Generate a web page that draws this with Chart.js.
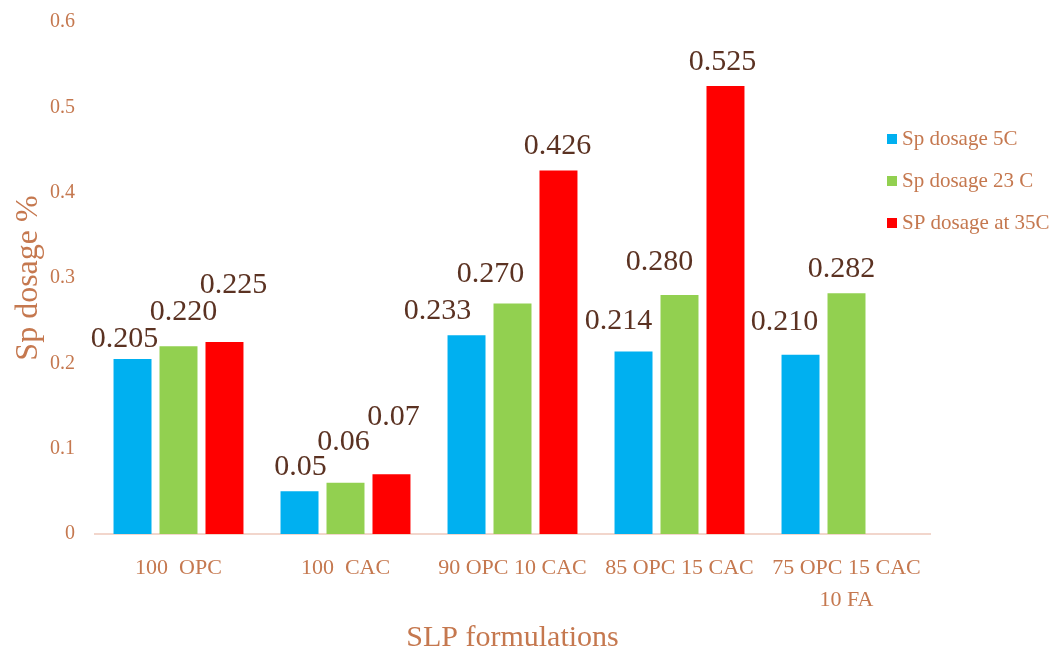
<!DOCTYPE html>
<html>
<head>
<meta charset="utf-8">
<script src="https://cdn.jsdelivr.net/npm/chart.js@4"></script>
<style>
  html, body { margin: 0; padding: 0; background: #fff; }
  #wrap { width: 1053px; height: 650px; }
</style>
</head>
<body>
<div id="wrap"><canvas id="chart" width="1053" height="650"></canvas></div>
<script>
const categories = [['100  OPC'], ['100  CAC'], ['90 OPC 10 CAC'], ['85 OPC 15 CAC'], ['75 OPC 15 CAC', '10 FA']];
const seriesNames = ['Sp dosage 5C', 'Sp dosage 23 C', 'SP dosage at 35C'];
const dosage5C = [0.205, 0.05, 0.233, 0.214, 0.210];
const dosage23C = [0.220, 0.06, 0.270, 0.280, 0.282];
const dosage35C = [0.225, 0.07, 0.426, 0.525, null];
const labels5C = ['0.205', '0.05', '0.233', '0.214', '0.210'];
const labels23C = ['0.220', '0.06', '0.270', '0.280', '0.282'];
const labels35C = ['0.225', '0.07', '0.426', '0.525', ''];

const tickColor = '#C5784F';
const labelColor = '#5B3222';
const serif = '"Liberation Serif", "DejaVu Serif", serif';

// label shifts (dx, dy above bar top) - the original labels were nudged by hand
const labelShift = [
  [[-8, 20], [1, 24], [-29, 24], [-15, 30], [-16, 33]],
  [[5, 34], [-2, 41], [-22, 29], [-20, 33], [-5, 24]],
  [[9, 57], [2, 57], [-1, 24], [-3, 24], [0, 0]]
];

const valueLabels = {
  id: 'valueLabels',
  afterDatasetsDraw(chart) {
    const ctx = chart.ctx;
    ctx.save();
    ctx.font = '30px ' + serif;
    ctx.fillStyle = labelColor;
    ctx.textAlign = 'center';
    ctx.textBaseline = 'middle';
    chart.data.datasets.forEach((ds, i) => {
      chart.getDatasetMeta(i).data.forEach((bar, j) => {
        if (ds.data[j] == null) return;
        const s = labelShift[i][j];
        ctx.fillText(ds.labelText[j], bar.x + s[0], bar.y - s[1]);
      });
    });
    ctx.restore();
  }
};

const sideLegend = {
  id: 'sideLegend',
  afterDraw(chart) {
    const ctx = chart.ctx;
    ctx.save();
    ctx.font = '21px ' + serif;
    ctx.textBaseline = 'middle';
    chart.data.datasets.forEach((ds, i) => {
      const y = 139 + i * 42;
      ctx.fillStyle = ds.backgroundColor;
      ctx.fillRect(887, y - 5, 10, 10);
      ctx.fillStyle = tickColor;
      ctx.fillText(ds.label, 902, y);
    });
    ctx.restore();
  }
};

new Chart(document.getElementById('chart'), {
  type: 'bar',
  data: {
    labels: categories,
    datasets: [
      { label: seriesNames[0], data: dosage5C, labelText: labels5C, backgroundColor: '#00B0F0' },
      { label: seriesNames[1], data: dosage23C, labelText: labels23C, backgroundColor: '#92D050' },
      { label: seriesNames[2], data: dosage35C, labelText: labels35C, backgroundColor: '#FF0000' }
    ]
  },
  options: {
    responsive: false,
    animation: false,
    layout: { padding: { top: 22, right: 123, left: 8, bottom: -5 } },
    datasets: { bar: { categoryPercentage: 0.826, barPercentage: 0.826 } },
    plugins: { legend: { display: false }, tooltip: { enabled: false } },
    scales: {
      x: {
        afterFit: scale => { scale.height = 121; scale.paddingLeft = 0; scale.paddingRight = 0; },
        grid: { display: false, drawTicks: false },
        border: { display: true, color: '#F2D6CC', width: 2 },
        ticks: { color: tickColor, font: { family: serif, size: 22, lineHeight: 1.45 }, padding: 18, maxRotation: 0, autoSkip: false },
        title: { display: true, text: 'SLP formulations', color: tickColor, font: { family: serif, size: 30, lineHeight: 1.1 }, padding: 0 }
      },
      y: {
        afterFit: scale => { scale.width = 87; scale.paddingTop = 0; scale.paddingBottom = 0; },
        min: 0,
        max: 0.6,
        grid: { display: false, drawTicks: false },
        border: { display: false },
        ticks: { stepSize: 0.1, color: tickColor, font: { family: serif, size: 20 }, padding: 20,
          callback: v => Math.round(v * 10) / 10 },
        title: { display: true, text: 'Sp dosage %', color: tickColor, font: { family: serif, size: 32, lineHeight: 1.1 }, padding: { top: 3, bottom: 0 } }
      }
    }
  },
  plugins: [valueLabels, sideLegend]
});
</script>
</body>
</html>
